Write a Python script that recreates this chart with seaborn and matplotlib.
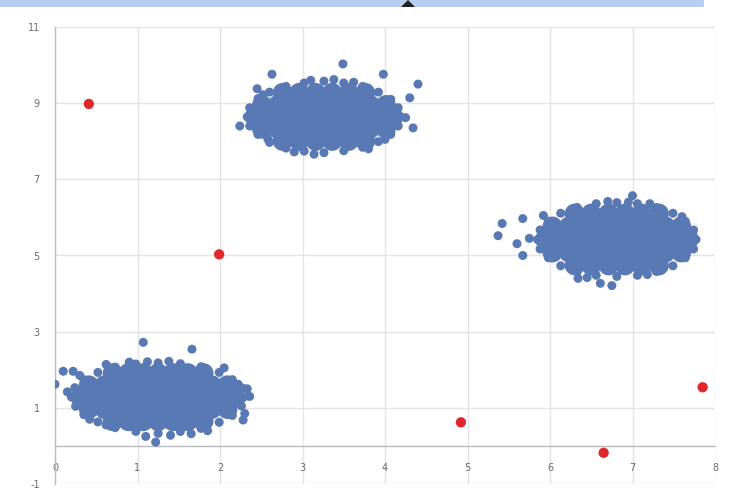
import matplotlib
matplotlib.use("Agg")
import matplotlib.pyplot as plt
import seaborn as sns
import pandas as pd
from matplotlib.patches import Rectangle, Polygon

# ---------------- data ----------------
# Cluster A (bottom-left) - dense body
a_core_x = [0.31, 0.50, 0.69, 0.88, 1.06, 1.25, 1.44, 1.62, 1.81, 2.00, 2.19,
            0.41, 0.60, 0.79, 0.97, 1.16, 1.34, 1.53, 1.72, 1.90, 2.09,
            0.41, 0.60, 0.79, 0.97, 1.16, 1.34, 1.53, 1.72, 1.90, 2.09,
            0.70, 0.89, 1.07, 1.25, 1.43, 1.61, 1.80,
            0.70, 0.89, 1.07, 1.25, 1.43, 1.61, 1.80]
a_core_y = [1.28, 1.28, 1.28, 1.28, 1.28, 1.28, 1.28, 1.28, 1.28, 1.28, 1.28,
            1.59, 1.59, 1.59, 1.59, 1.59, 1.59, 1.59, 1.59, 1.59, 1.59,
            0.97, 0.97, 0.97, 0.97, 0.97, 0.97, 0.97, 0.97, 0.97, 0.97,
            1.91, 1.91, 1.91, 1.91, 1.91, 1.91, 1.91,
            0.65, 0.65, 0.65, 0.65, 0.65, 0.65, 0.65]
# Cluster A - rim points and outliers
a_x = [2.29, 2.27, 2.15, 1.99, 1.77, 1.52, 1.25, 0.98, 0.73, 0.52, 0.35, 0.24,
       0.20, 0.25, 0.35, 0.52, 0.73, 0.98, 1.25, 1.52, 1.77, 1.99, 2.15, 2.26,
       0.00, 0.10, 0.22, 1.07, 1.66, 2.28, 2.30, 1.22, 2.33, 0.15, 1.40, 0.62,
       2.05, 1.10, 0.90, 1.85, 2.36, 0.30, 1.38, 1.12, 0.62, 1.65, 2.22, 0.42]
a_y = [1.28, 1.52, 1.74, 1.93, 2.08, 2.16, 2.18, 2.15, 2.07, 1.93, 1.74, 1.53,
       1.28, 1.04, 0.82, 0.63, 0.48, 0.38, 0.33, 0.38, 0.46, 0.62, 0.80, 1.05,
       1.62, 1.96, 1.96, 2.72, 2.54, 0.68, 0.85, 0.10, 1.50, 1.42, 0.28, 2.14,
       2.05, 0.25, 2.20, 0.40, 1.30, 1.85, 2.22, 2.21, 0.55, 0.32, 1.62, 0.70]

# Cluster B (top) - dense body
b_core_x = [2.42, 2.61, 2.80, 2.98, 3.17, 3.35, 3.54, 3.72, 3.91, 4.10,
            2.51, 2.70, 2.89, 3.07, 3.26, 3.45, 3.63, 3.82, 4.01,
            2.51, 2.70, 2.89, 3.07, 3.26, 3.45, 3.63, 3.82, 4.01,
            2.76, 2.96, 3.16, 3.36, 3.56, 3.76,
            2.76, 2.96, 3.16, 3.36, 3.56, 3.76]
b_core_y = [8.64, 8.64, 8.64, 8.64, 8.64, 8.64, 8.64, 8.64, 8.64, 8.64,
            8.95, 8.95, 8.95, 8.95, 8.95, 8.95, 8.95, 8.95, 8.95,
            8.33, 8.33, 8.33, 8.33, 8.33, 8.33, 8.33, 8.33, 8.33,
            9.27, 9.27, 9.27, 9.27, 9.27, 9.27,
            8.01, 8.01, 8.01, 8.01, 8.01, 8.01]
b_x = [4.19, 4.16, 4.07, 3.92, 3.73, 3.50, 3.26, 3.02, 2.80, 2.60, 2.46, 2.36,
       2.33, 2.36, 2.46, 2.60, 2.80, 3.02, 3.26, 3.50, 3.73, 3.92, 4.07, 4.16,
       3.49, 3.98, 4.40, 4.30, 2.63, 2.24, 2.58, 4.34, 2.45, 3.10, 3.80, 4.25,
       3.38, 3.62, 2.90, 3.14, 4.00, 2.52]
b_y = [8.64, 8.88, 9.10, 9.29, 9.44, 9.53, 9.58, 9.53, 9.44, 9.29, 9.12, 8.88,
       8.64, 8.40, 8.18, 7.97, 7.82, 7.74, 7.70, 7.75, 7.84, 7.99, 8.18, 8.40,
       10.03, 9.76, 9.50, 9.14, 9.76, 8.40, 8.06, 8.35, 9.38, 9.60, 7.80, 8.62,
       9.62, 9.55, 7.72, 7.66, 8.05, 9.22]

# Cluster C (right) - dense body
c_core_x = [5.94, 6.13, 6.33, 6.52, 6.71, 6.91, 7.10, 7.29, 7.49, 7.68,
            6.03, 6.23, 6.42, 6.62, 6.81, 7.01, 7.20, 7.40, 7.59,
            6.03, 6.23, 6.42, 6.62, 6.81, 7.01, 7.20, 7.40, 7.59,
            6.30, 6.50, 6.71, 6.91, 7.11, 7.32,
            6.30, 6.50, 6.71, 6.91, 7.11, 7.32]
c_core_y = [5.42, 5.42, 5.42, 5.42, 5.42, 5.42, 5.42, 5.42, 5.42, 5.42,
            5.76, 5.76, 5.76, 5.76, 5.76, 5.76, 5.76, 5.76, 5.76,
            5.08, 5.08, 5.08, 5.08, 5.08, 5.08, 5.08, 5.08, 5.08,
            6.10, 6.10, 6.10, 6.10, 6.10, 6.10,
            4.74, 4.74, 4.74, 4.74, 4.74, 4.74]
c_x = [7.77, 7.74, 7.64, 7.49, 7.29, 7.06, 6.81, 6.56, 6.33, 6.13, 5.98, 5.88,
       5.85, 5.88, 5.98, 6.13, 6.33, 6.56, 6.81, 7.06, 7.29, 7.49, 7.64, 7.74,
       5.42, 5.37, 5.67, 7.00, 7.21, 6.34, 6.61, 6.75, 5.60, 5.67, 7.73, 5.75,
       6.70, 6.95, 7.18, 6.45, 7.60, 5.92]
c_y = [5.42, 5.67, 5.90, 6.11, 6.26, 6.36, 6.39, 6.36, 6.26, 6.11, 5.90, 5.67,
       5.42, 5.17, 4.94, 4.73, 4.58, 4.48, 4.45, 4.48, 4.58, 4.73, 4.94, 5.17,
       5.84, 5.52, 5.97, 6.57, 6.36, 4.40, 4.27, 4.21, 5.31, 5.00, 5.58, 5.45,
       6.42, 6.40, 4.50, 4.42, 6.02, 6.05]

# Red points
red_x = [0.41, 1.99, 4.92, 6.65, 7.85]
red_y = [8.98, 5.03, 0.62, -0.18, 1.54]

x_ticks = [0, 1, 2, 3, 4, 5, 6, 7, 8]
y_ticks = [-1, 1, 3, 5, 7, 9, 11]

# ---------------- style ----------------
BLUE = "#5879b3"
RED = "#e0282c"
GRID = "#e4e4e4"
AXIS = "#bcbcbc"
TXT = "#6a6a6a"

sns.set_theme(style="white")
plt.rcParams["font.family"] = ["DejaVu Sans"]

fig = plt.figure(figsize=(7.56, 5.0), dpi=100)
ax = fig.add_axes([55 / 756, 1 - 484 / 500, 660 / 756, 457 / 500])

core = pd.DataFrame({"x": a_core_x + b_core_x + c_core_x,
                     "y": a_core_y + b_core_y + c_core_y})
pts = pd.DataFrame({"x": a_x + b_x + c_x, "y": a_y + b_y + c_y})
red = pd.DataFrame({"x": red_x, "y": red_y})

sns.scatterplot(data=core, x="x", y="y", s=207, color=BLUE, edgecolor="none",
                linewidth=0, ax=ax, zorder=3)
sns.scatterplot(data=pts, x="x", y="y", s=42, color=BLUE, edgecolor="none",
                linewidth=0, ax=ax, zorder=3)
sns.scatterplot(data=red, x="x", y="y", s=55, color=RED, edgecolor="none",
                linewidth=0, ax=ax, zorder=4)

ax.set_xlim(0, 8)
ax.set_ylim(-1, 11)
ax.set_xticks(x_ticks)
ax.set_yticks(y_ticks)
ax.set_xticklabels([str(v) for v in x_ticks])
ax.set_yticklabels([str(v) for v in y_ticks])
ax.set_xlabel("")
ax.set_ylabel("")

ax.grid(True, color=GRID, linewidth=1.0, zorder=0)
ax.set_axisbelow(True)
for sp in ["top", "right"]:
    ax.spines[sp].set_visible(False)
ax.spines["bottom"].set_position(("data", 0))
ax.spines["bottom"].set_color(AXIS)
ax.spines["bottom"].set_linewidth(1.0)
ax.spines["left"].set_color(AXIS)
ax.spines["left"].set_linewidth(1.0)
ax.tick_params(axis="both", length=0, labelsize=7, colors=TXT)
ax.tick_params(axis="x", pad=12)
ax.tick_params(axis="y", pad=11)
for sp in ax.spines.values():
    sp.set_zorder(1)

# screenshot selection strip at the top edge
fig.patches.append(Rectangle((0, 1 - 7 / 500), 704 / 756, 7 / 500,
                             transform=fig.transFigure, facecolor="#b7cff1",
                             edgecolor="none"))
fig.patches.append(Polygon([(401 / 756, 1 - 7 / 500), (415 / 756, 1 - 7 / 500),
                            (408 / 756, 1.0)], closed=True,
                           transform=fig.transFigure, facecolor="#222222",
                           edgecolor="none"))

fig.savefig("out.png", dpi=100)
